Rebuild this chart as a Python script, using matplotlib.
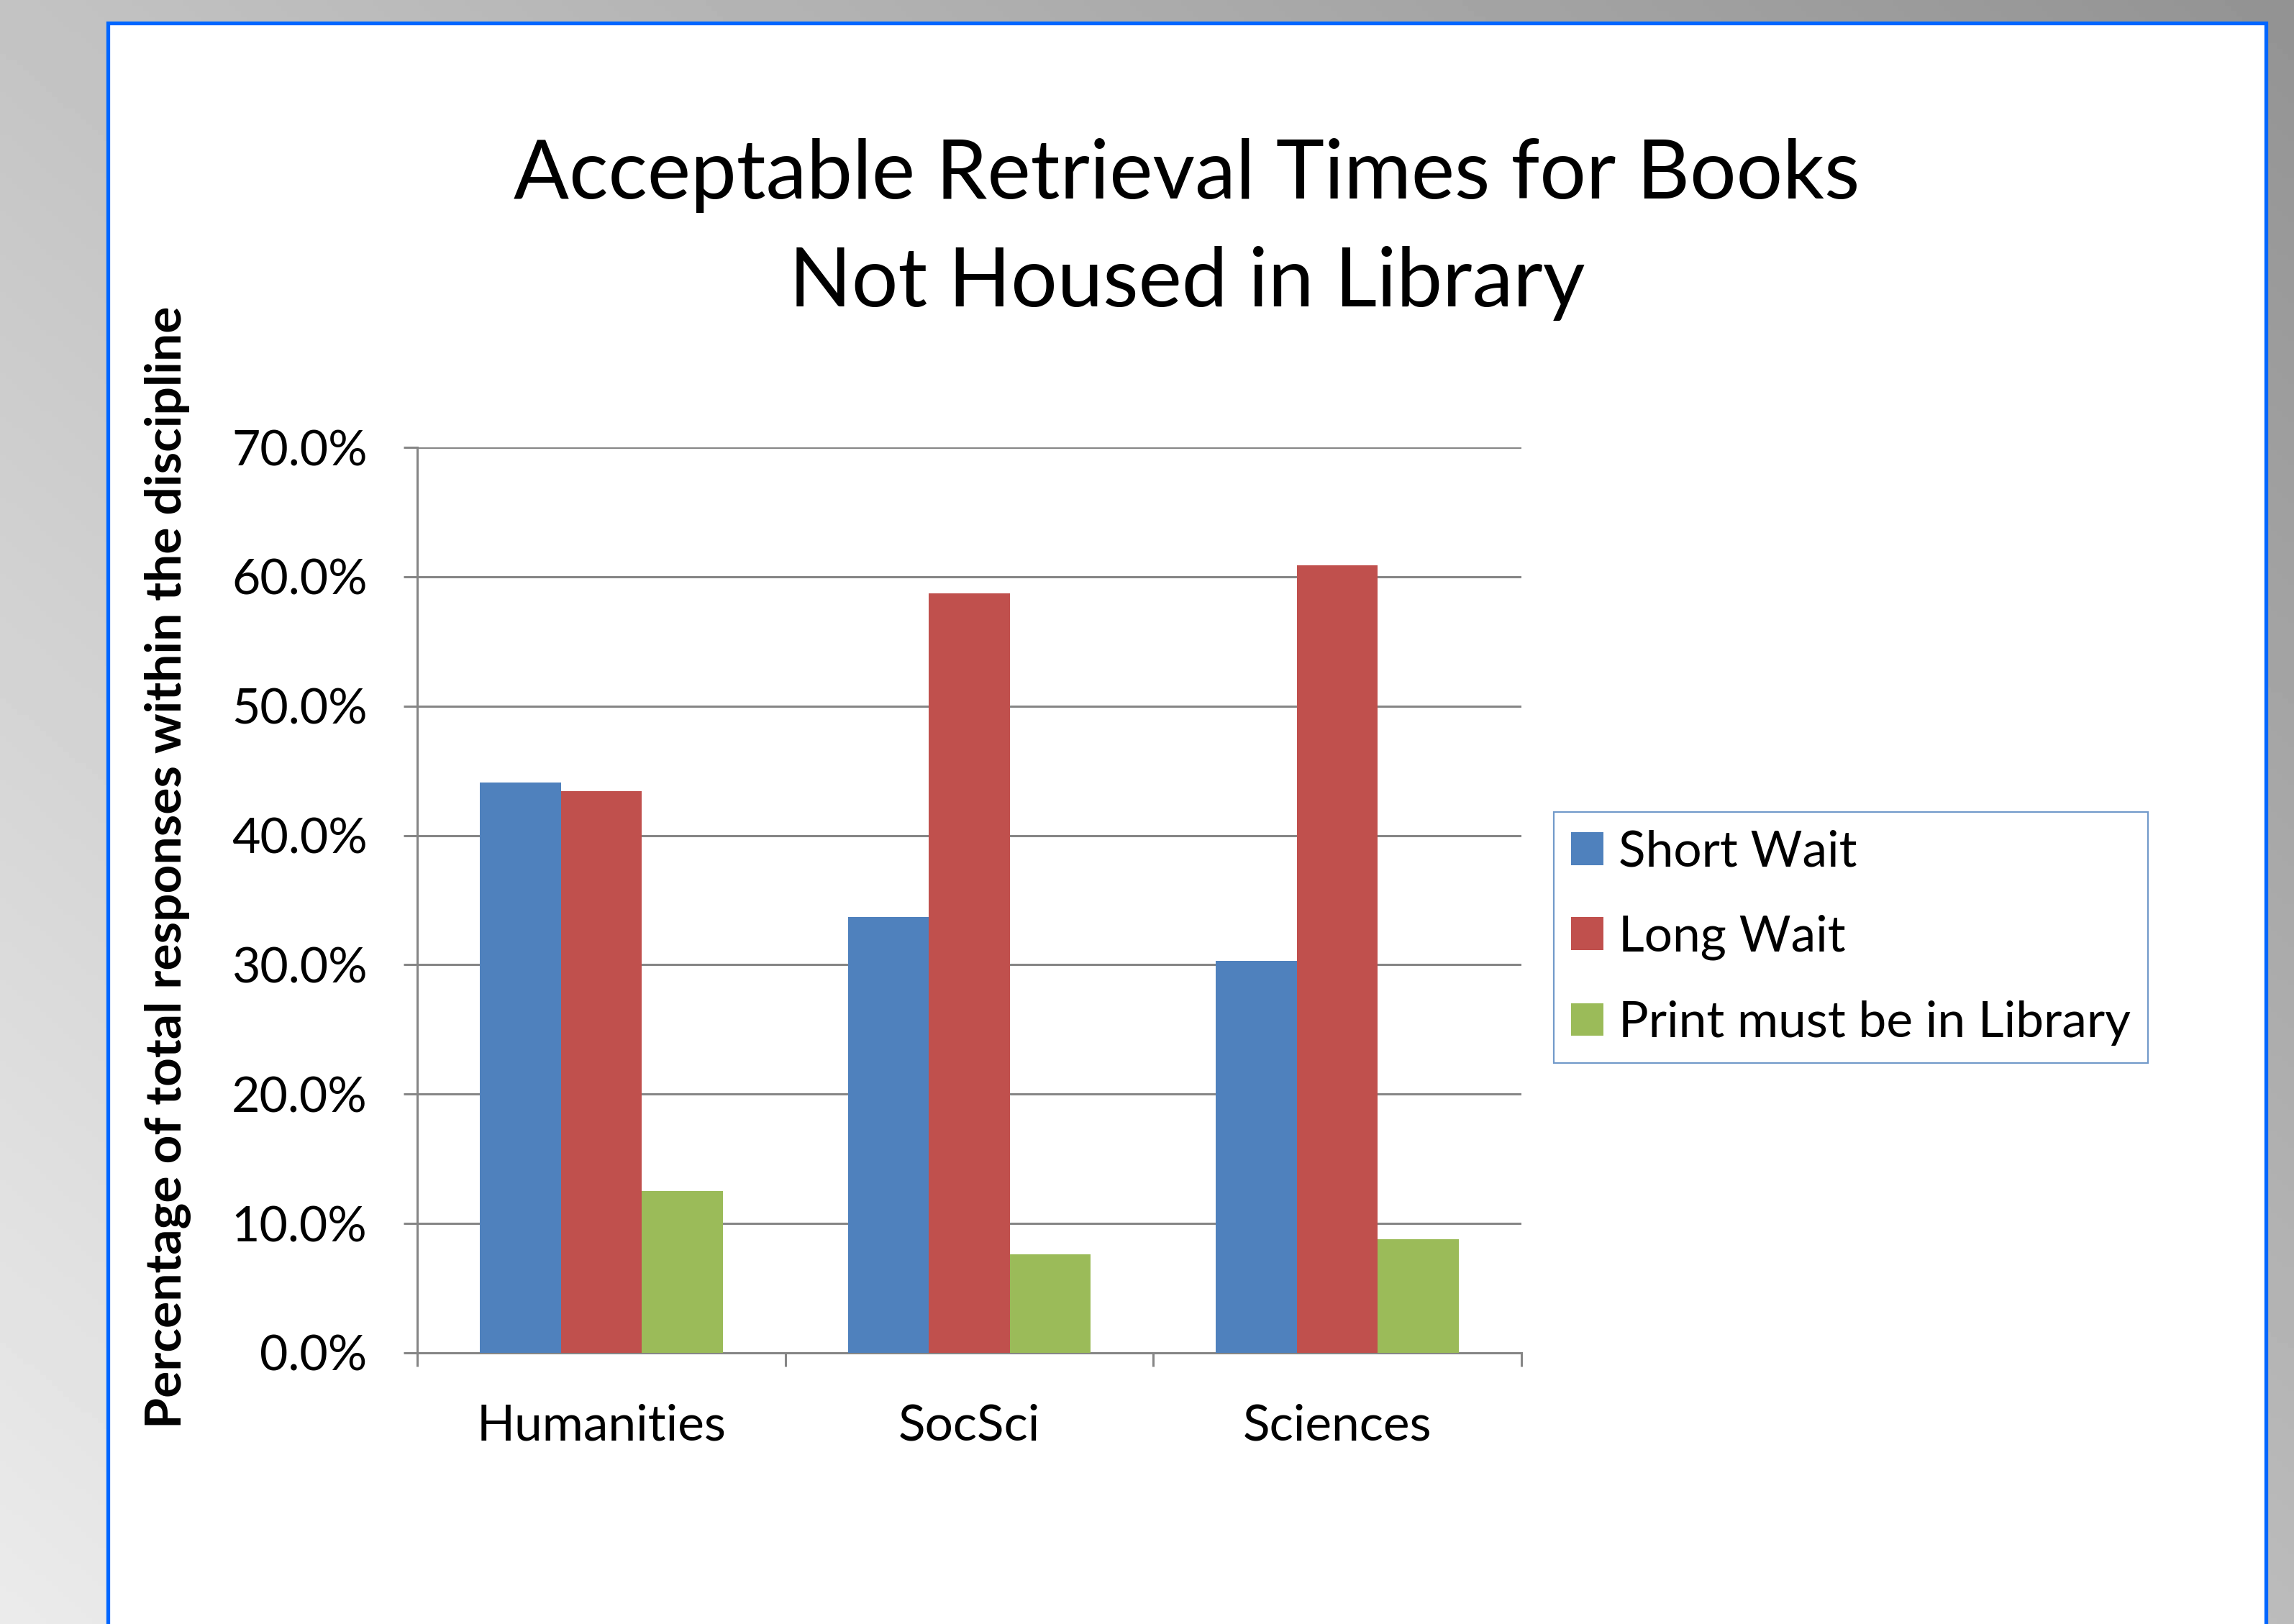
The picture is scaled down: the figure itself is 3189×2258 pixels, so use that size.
import matplotlib
matplotlib.use("Agg")
import matplotlib.pyplot as plt
import matplotlib.patches as patches
import numpy as np

plt.rcParams['font.family'] = ['Lato', 'DejaVu Sans']

categories = ["Humanities", "SocSci", "Sciences"]
short_wait = [44.1, 33.7, 30.3]
long_wait = [43.4, 58.7, 60.9]
print_lib = [12.5, 7.6, 8.8]
series_names = ["Short Wait", "Long Wait", "Print must be in Library"]
colors = ["#4F81BD", "#C0504D", "#9BBB59"]

W, H = 3189, 2258
fig = plt.figure(figsize=(W / 100, H / 100), dpi=100)

# gray gradient background
bg = fig.add_axes([0, 0, 1, 1])
bg.set_zorder(-3)
xx, yy = np.meshgrid(np.linspace(0, 1, 400), np.linspace(0, 1, 300))
shade = (195 + 40 * yy - 48 * xx) / 255.0
bg.imshow(shade, cmap="gray", vmin=0, vmax=1, aspect="auto", extent=(0, 1, 1, 0))
bg.set_xlim(0, 1)
bg.set_ylim(1, 0)
bg.axis("off")

# white slide panel with blue edge
panel = patches.Rectangle((150 / W, -0.05), (3150 - 150) / W, 1 - 32 / H + 0.05,
                          transform=fig.transFigure, facecolor="white",
                          edgecolor="#0066FF", linewidth=3.8, zorder=-2)
fig.patches.append(panel)

ax = fig.add_axes([580 / W, 1 - 1881 / H, (2115 - 580) / W, (1881 - 622) / H])
ax.set_facecolor("none")
x = np.arange(len(categories))
width = 0.22
for i, (vals, name, c) in enumerate(zip([short_wait, long_wait, print_lib], series_names, colors)):
    ax.bar(x + (i - 1) * width, vals, width, color=c, label=name, zorder=3)

ax.set_xlim(-0.5, 2.5)
ax.set_ylim(0, 70)
ax.set_yticks(np.arange(0, 71, 10))
ax.set_yticklabels(["%.1f%%" % v for v in np.arange(0, 71, 10)], fontsize=49)
ax.yaxis.grid(True, color="#868686", linewidth=2.2, zorder=0)
ax.set_axisbelow(True)
ax.set_xticks([-0.5, 0.5, 1.5, 2.5])
ax.set_xticklabels([])
ax.set_xticks(x, minor=True)
ax.set_xticklabels(categories, minor=True, fontsize=50)
ax.tick_params(axis="x", which="minor", length=0, pad=51)
ax.tick_params(axis="x", which="major", length=14, width=2.2, color="#868686")
ax.tick_params(axis="y", length=14, width=2.2, color="#868686", pad=36)
for s in ["top", "right"]:
    ax.spines[s].set_visible(False)
for s in ["left", "bottom"]:
    ax.spines[s].set_color("#868686")
    ax.spines[s].set_linewidth(2.2)

fig.text(1650 / W, 1 - 276 / H, "Acceptable Retrieval Times for Books", fontsize=82,
         ha="center", va="baseline")
fig.text(1650 / W, 1 - 426 / H, "Not Housed in Library", fontsize=82,
         ha="center", va="baseline")
fig.text(234 / W, 1 - 1206 / H, "Percentage of total responses within the discipline",
         fontsize=50, fontweight="bold", rotation=90, ha="center", va="center")

leg = ax.legend(loc="upper left", bbox_to_anchor=(2160 / W, 1 - 1129 / H),
                bbox_transform=fig.transFigure, fontsize=50, frameon=True,
                fancybox=False, handlelength=0.64, handleheight=0.64,
                handletextpad=0.3, labelspacing=0.8, borderpad=0.35,
                borderaxespad=0)
leg.get_frame().set_edgecolor("#4F81BD")
leg.get_frame().set_linewidth(1.6)

fig.savefig("out.png", dpi=100)
